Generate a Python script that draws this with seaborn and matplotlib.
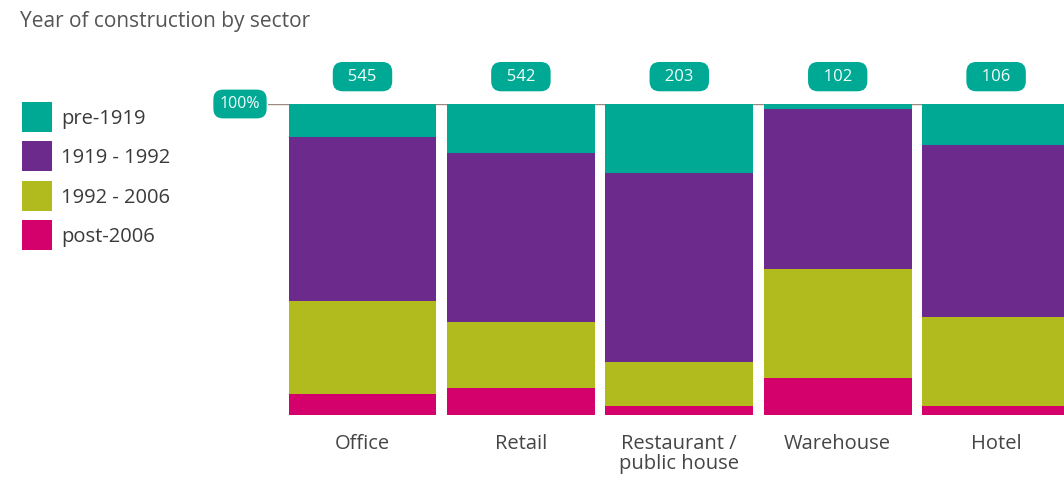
import numpy as np
import pandas as pd
import seaborn as sns
import matplotlib.pyplot as plt
from matplotlib.patches import Rectangle

# Share of buildings (%) by construction period, per sector
sectors = ["Office", "Retail", "Restaurant /\npublic house", "Warehouse", "Hotel"]
counts = [545, 542, 203, 102, 106]
pre_1919 = [10.5, 15.9, 22.3, 1.7, 13.2]
y1919_1992 = [52.7, 54.3, 60.6, 51.4, 55.4]
y1992_2006 = [30.0, 21.0, 14.2, 35.1, 28.5]
post_2006 = [6.8, 8.8, 2.9, 11.8, 2.9]

periods = ["pre-1919", "1919 - 1992", "1992 - 2006", "post-2006"]
colors = ["#00A994", "#6C2A8C", "#B2BB1E", "#D4006C"]

sns.set_theme(style="white")
plt.rcParams["font.family"] = ["Open Sans", "DejaVu Sans"]

df = pd.DataFrame({
    "sector": sectors,
    "pre": pre_1919,
    "mid": y1919_1992,
    "late": y1992_2006,
    "post": post_2006,
})
# cumulative heights, stacked from the bottom (post-2006) upward
df["c_post"] = df["post"]
df["c_late"] = df["c_post"] + df["late"]
df["c_mid"] = df["c_late"] + df["mid"]
df["c_pre"] = df["c_mid"] + df["pre"]

W, H = 1064, 479
fig = plt.figure(figsize=(W / 100, H / 100), dpi=100)
ax_left, ax_right, ax_top, ax_bottom = 268, 1064, 104, 415
ax = fig.add_axes([ax_left / W, (H - ax_bottom) / H,
                   (ax_right - ax_left) / W, (ax_bottom - ax_top) / H])

bar_w = 0.934
for col, c in zip(["c_pre", "c_mid", "c_late", "c_post"], colors):
    sns.barplot(data=df, x="sector", y=col, color=c, width=bar_w,
                saturation=1, ax=ax, linewidth=0)

# horizontal scale: 158.4 px per category, first bar centred at 362.5 px
pitch, first_c = 158.4, 362.5
ax.set_xlim((ax_left - first_c) / pitch, (ax_right - first_c) / pitch)
ax.set_ylim(0, 100)

for s in ax.spines.values():
    s.set_visible(False)
ax.set_xlabel("")
ax.set_ylabel("")
ax.set_yticks([])
ax.tick_params(axis="x", length=0, pad=14, labelsize=14.5, labelcolor="#454545")
ax.set_xticks(range(len(sectors)))
ax.set_xticklabels(sectors, linespacing=1.0, va="top")

# 100% reference line along the top of the bars
ax.axhline(100, color="#9c8a80", lw=1.0, zorder=0.5)

badge = dict(boxstyle="round,pad=0.4,rounding_size=0.6", fc="#00A994", ec="none")
for i, n in enumerate(counts):
    ax.text(i, 108.8, f"  {n}  ", ha="center", va="center", color="#f2fffb",
            fontsize=12, bbox=badge, clip_on=False)
ax.text((240 - first_c) / pitch, 100, "100%", ha="center", va="center",
        color="#f2fffb", fontsize=11.5, bbox=badge, clip_on=False)

# title
fig.text(20 / W, 1 - 22 / H, "Year of construction by sector", ha="left",
         va="center", fontsize=15, color="#555555")

# legend
for k, (lab, c) in enumerate(zip(periods, colors)):
    y_top = 102 + k * 39.3
    fig.patches.append(Rectangle((22 / W, 1 - (y_top + 30) / H), 30 / W, 30 / H,
                                 transform=fig.transFigure, fc=c, ec="none"))
    fig.text(61 / W, 1 - (y_top + 17) / H, lab, ha="left", va="center",
             fontsize=14.5, color="#3a3a3a")

fig.savefig("out.png", dpi=100, facecolor="white")
